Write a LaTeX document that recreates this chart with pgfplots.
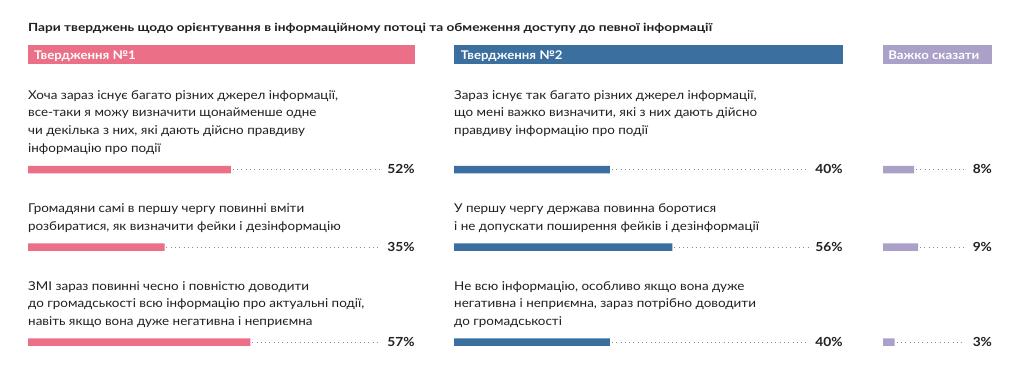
\documentclass[border=0pt]{standalone}
\usepackage{fontspec}
\setmainfont{Lato}
\newfontfamily\wide[FakeStretch=1.1]{Lato}
\newfontfamily\titlef[FakeStretch=1.22]{Lato}
\usepackage{pgfplots}
\pgfplotsset{compat=1.18}
\definecolor{cPink}{HTML}{EB7087}
\definecolor{cBlue}{HTML}{3B6F9F}
\definecolor{cPurple}{HTML}{AAA0C8}
\definecolor{cText}{HTML}{231F20}
\definecolor{cDot}{HTML}{8A8A8A}
\newcommand\stm[1]{\vtop{\baselineskip=17.7bp\lineskiplimit=-100bp #1}}
\pgfplotsset{panel/.style={scale only axis, height=365bp, ymin=0, ymax=365, y dir=reverse, xmin=0, axis lines=none, clip=false, anchor=south west, ticks=none}}
\tikzset{
 stmt/.style={anchor=base west, inner sep=0pt, font=\wide\fontsize{12.2bp}{17.7bp}\selectfont, text=cText},
 pct/.style={anchor=base east, inner sep=0pt, text=cText, font=\wide\bfseries\fontsize{12.5bp}{14bp}\selectfont},
 hdr/.style={anchor=base west, inner sep=0pt, text=white, font=\wide\bfseries\fontsize{12bp}{14bp}\selectfont},
 dots/.style={color=cDot, line width=0.9bp, dash pattern=on 0.9bp off 3.4bp}
}
\begin{document}
\begin{tikzpicture}
\useasboundingbox (0,0) rectangle (1024bp,365bp);
\fill[white] (0,0) rectangle (1024bp,365bp);
% ---------- Statement 1 ----------
\begin{axis}[panel, at={(28bp,0)}, width=386.9bp, xmax=99.2]
\addplot[xbar, bar width=19, fill=cPink, draw=none] coordinates {(99.2,54.5)};
\addplot[xbar, bar width=7.5, fill=cPink, draw=none] coordinates {(52,169.5) (35,247) (57,342)};
\addplot[dots] coordinates {(52.5,169.5) (90.3,169.5)};
\addplot[dots] coordinates {(35.5,247) (90.3,247)};
\addplot[dots] coordinates {(57.5,342) (90.3,342)};
\node[anchor=base west, inner sep=0pt, text=cText, font=\titlef\bfseries\fontsize{11.2bp}{13bp}\selectfont] at (axis cs:0,31.7) {Пари тверджень щодо орієнтування в інформаційному потоці та обмеження доступу до певної інформації};
\node[hdr] at (axis cs:1.5,59.3) {Твердження №1};
\node[stmt] at (axis cs:0,99.3) {\stm{\hbox{Хоча зараз існує багато різних джерел інформації,}\hbox{все-таки я можу визначити щонайменше одне}\hbox{чи декілька з них, які дають дійсно правдиву}\hbox{інформацію про події}}};
\node[stmt] at (axis cs:0,212.3) {\stm{\hbox{Громадяни самі в першу чергу повинні вміти}\hbox{розбиратися, як визначити фейки і дезінформацію}}};
\node[stmt] at (axis cs:0,290.2) {\stm{\hbox{ЗМІ зараз повинні чесно і повністю доводити}\hbox{до громадськості всю інформацію про актуальні події,}\hbox{навіть якщо вона дуже негативна і неприємна}}};
\node[pct] at (axis cs:99.2,173.5) {52\%};
\node[pct] at (axis cs:99.2,251) {35\%};
\node[pct] at (axis cs:99.2,346) {57\%};
\end{axis}
% ---------- Statement 2 ----------
\begin{axis}[panel, at={(454bp,0)}, width=388.8bp, xmax=99.7]
\addplot[xbar, bar width=19, fill=cBlue, draw=none] coordinates {(99.7,54.5)};
\addplot[xbar, bar width=7.5, fill=cBlue, draw=none] coordinates {(40,169.5) (56,247) (40,342)};
\addplot[dots] coordinates {(40.5,169.5) (91,169.5)};
\addplot[dots] coordinates {(56.5,247) (91,247)};
\addplot[dots] coordinates {(40.5,342) (91,342)};
\node[hdr] at (axis cs:1.7,59.3) {Твердження №2};
\node[stmt] at (axis cs:0,99.3) {\stm{\hbox{Зараз існує так багато різних джерел інформації,}\hbox{що мені важко визначити, які з них дають дійсно}\hbox{правдиву інформацію про події}}};
\node[stmt] at (axis cs:0,212.3) {\stm{\hbox{У першу чергу держава повинна боротися}\hbox{і не допускати поширення фейків і дезінформації}}};
\node[stmt] at (axis cs:0,290.2) {\stm{\hbox{Не всю інформацію, особливо якщо вона дуже}\hbox{негативна і неприємна, зараз потрібно доводити}\hbox{до громадськості}}};
\node[pct] at (axis cs:99.7,173.5) {40\%};
\node[pct] at (axis cs:99.7,251) {56\%};
\node[pct] at (axis cs:99.7,346) {40\%};
\end{axis}
% ---------- Hard to say ----------
\begin{axis}[panel, at={(883bp,0)}, width=109.2bp, xmax=28]
\addplot[xbar, bar width=19, fill=cPurple, draw=none] coordinates {(28,54.5)};
\addplot[xbar, bar width=7.5, fill=cPurple, draw=none] coordinates {(8,169.5) (9,247) (3,342)};
\addplot[dots] coordinates {(8.5,169.5) (20.8,169.5)};
\addplot[dots] coordinates {(9.5,247) (20.8,247)};
\addplot[dots] coordinates {(3.5,342) (20.8,342)};
\node[hdr] at (axis cs:1.3,59.3) {Важко сказати};
\node[pct] at (axis cs:28,173.5) {8\%};
\node[pct] at (axis cs:28,251) {9\%};
\node[pct] at (axis cs:28,346) {3\%};
\end{axis}
\end{tikzpicture}
\end{document}
